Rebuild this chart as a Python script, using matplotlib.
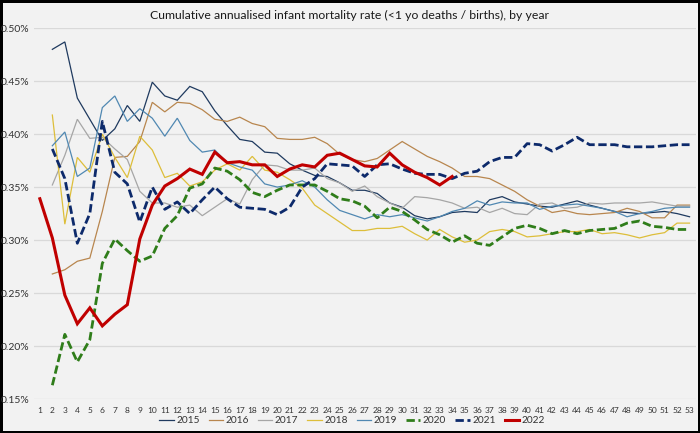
import numpy as np
import matplotlib
matplotlib.use("Agg")
import matplotlib.pyplot as plt
from matplotlib.ticker import FuncFormatter

nan = np.nan

weeks = list(range(1, 54))

# cumulative annualised rate, in percent; week 1 only reported for 2022
y2015 = [nan, 0.480, 0.487, 0.434, 0.414, 0.394, 0.405, 0.427, 0.412, 0.449,
         0.436, 0.432, 0.445, 0.440, 0.422, 0.408, 0.395, 0.393, 0.383, 0.382,
         0.372, 0.366, 0.361, 0.360, 0.354, 0.347, 0.347, 0.344, 0.335, 0.331,
         0.323, 0.320, 0.322, 0.326, 0.327, 0.326, 0.338, 0.341, 0.336, 0.334,
         0.332, 0.331, 0.334, 0.337, 0.333, 0.330, 0.327, 0.326, 0.325, 0.326,
         0.327, 0.325, 0.322]
y2016 = [nan, 0.268, 0.272, 0.280, 0.283, 0.327, 0.378, 0.379, 0.393, 0.430,
         0.421, 0.430, 0.429, 0.423, 0.414, 0.412, 0.416, 0.410, 0.407, 0.396,
         0.395, 0.395, 0.397, 0.391, 0.381, 0.376, 0.374, 0.377, 0.385, 0.393,
         0.386, 0.379, 0.374, 0.368, 0.360, 0.360, 0.358, 0.352, 0.346, 0.338,
         0.332, 0.326, 0.328, 0.325, 0.324, 0.325, 0.326, 0.330, 0.327, 0.321,
         0.321, 0.333, 0.333]
y2017 = [nan, 0.352, 0.380, 0.414, 0.396, 0.397, 0.386, 0.376, 0.346, 0.335,
         0.335, 0.331, 0.333, 0.323, 0.331, 0.339, 0.334, 0.357, 0.371, 0.370,
         0.366, 0.366, 0.368, 0.358, 0.354, 0.346, 0.351, 0.341, 0.335, 0.330,
         0.341, 0.340, 0.338, 0.335, 0.330, 0.331, 0.326, 0.330, 0.325, 0.324,
         0.334, 0.335, 0.330, 0.331, 0.335, 0.334, 0.335, 0.335, 0.335, 0.336,
         0.334, 0.332, 0.332]
y2018 = [nan, 0.418, 0.315, 0.378, 0.364, 0.400, 0.378, 0.359, 0.398, 0.385,
         0.359, 0.363, 0.351, 0.355, 0.366, 0.372, 0.366, 0.379, 0.366, 0.364,
         0.357, 0.349, 0.333, 0.325, 0.317, 0.309, 0.309, 0.311, 0.311, 0.313,
         0.306, 0.300, 0.310, 0.303, 0.298, 0.300, 0.308, 0.310, 0.308, 0.303,
         0.304, 0.306, 0.308, 0.308, 0.310, 0.306, 0.307, 0.305, 0.302, 0.305,
         0.307, 0.316, 0.316]
y2019 = [nan, 0.389, 0.402, 0.360, 0.368, 0.425, 0.436, 0.412, 0.424, 0.415,
         0.398, 0.415, 0.394, 0.383, 0.385, 0.373, 0.369, 0.366, 0.353, 0.350,
         0.352, 0.356, 0.350, 0.338, 0.328, 0.324, 0.320, 0.324, 0.322, 0.324,
         0.321, 0.318, 0.322, 0.327, 0.330, 0.337, 0.333, 0.336, 0.335, 0.335,
         0.329, 0.332, 0.333, 0.334, 0.332, 0.330, 0.327, 0.322, 0.325, 0.327,
         0.330, 0.331, 0.331]
y2020 = [nan, 0.163, 0.211, 0.185, 0.206, 0.278, 0.301, 0.290, 0.280, 0.285,
         0.311, 0.323, 0.349, 0.353, 0.368, 0.365, 0.357, 0.345, 0.341, 0.347,
         0.352, 0.352, 0.352, 0.346, 0.339, 0.337, 0.332, 0.321, 0.331, 0.327,
         0.319, 0.310, 0.305, 0.298, 0.304, 0.297, 0.295, 0.303, 0.311, 0.314,
         0.311, 0.306, 0.309, 0.306, 0.309, 0.310, 0.311, 0.316, 0.318, 0.313,
         0.312, 0.310, 0.310]
y2021 = [nan, 0.386, 0.358, 0.297, 0.325, 0.412, 0.364, 0.353, 0.317, 0.350,
         0.329, 0.336, 0.325, 0.338, 0.350, 0.339, 0.331, 0.330, 0.329, 0.324,
         0.331, 0.350, 0.358, 0.372, 0.371, 0.370, 0.360, 0.371, 0.372, 0.367,
         0.363, 0.362, 0.362, 0.358, 0.363, 0.365, 0.374, 0.378, 0.378, 0.391,
         0.390, 0.384, 0.390, 0.397, 0.390, 0.390, 0.390, 0.388, 0.388, 0.388,
         0.389, 0.390, 0.390]
y2022 = [0.339, 0.302, 0.248, 0.221, 0.236, 0.219, 0.230, 0.239, 0.301, 0.333,
         0.351, 0.358, 0.367, 0.362, 0.383, 0.373, 0.374, 0.371, 0.371, 0.360,
         0.367, 0.371, 0.369, 0.380, 0.382, 0.376, 0.370, 0.369, 0.382, 0.371,
         0.364, 0.359, 0.352, 0.360]

series = [
    ("2015", y2015, "#1F3A5F", 0.9, "-"),
    ("2016", y2016, "#B8864E", 0.9, "-"),
    ("2017", y2017, "#A6A6A6", 0.9, "-"),
    ("2018", y2018, "#DDBE3A", 0.9, "-"),
    ("2019", y2019, "#5088B2", 0.9, "-"),
    ("2020", y2020, "#2F7D1A", 2.0, "--"),
    ("2021", y2021, "#0D2A6B", 2.0, "--"),
    ("2022", y2022, "#C00000", 2.2, "-"),
]

plt.rcParams["font.family"] = ["Liberation Sans Narrow", "Lato", "DejaVu Sans"]

bg = "#F2F2F2"
fig = plt.figure(figsize=(7, 4.33), dpi=100)
fig.patch.set_facecolor(bg)
fig.patch.set_edgecolor("black")
fig.patch.set_linewidth(2.5)

ax = fig.add_axes([0.048, 0.0785, 0.946, 0.8565])
ax.set_facecolor(bg)

for label, vals, color, lw, ls in series:
    line, = ax.plot(weeks[:len(vals)], vals, color=color, linewidth=lw,
                    linestyle=ls, label=label, solid_joinstyle="miter")
    if ls == "--":
        line.set_dashes((3, 1.3))

ax.set_xlim(0.5, 53.5)
ax.set_ylim(0.15, 0.50)
ax.set_yticks(np.arange(0.15, 0.501, 0.05))
ax.yaxis.set_major_formatter(FuncFormatter(lambda v, p: f"{v:.2f}%"))
ax.set_xticks(weeks)
ax.set_xticklabels([str(w) for w in weeks])

ax.grid(axis="y", color="#D9D9D9", linewidth=0.9)
ax.set_axisbelow(True)
for s in ax.spines.values():
    s.set_visible(False)
ax.tick_params(axis="both", length=0, colors="#333333")
ax.tick_params(axis="y", labelsize=7.5, pad=3)
ax.tick_params(axis="x", labelsize=6, pad=6)

fig.text(0.5, 0.965, "Cumulative annualised infant mortality rate (<1 yo deaths / births), by year",
         ha="center", va="center", fontsize=8.8, color="#1a1a1a")

leg = fig.legend(loc="center", bbox_to_anchor=(0.503, 0.028), ncol=8, frameon=False,
                 fontsize=7.3, handlelength=1.4, handletextpad=0.25, columnspacing=0.9)
for t in leg.get_texts():
    t.set_color("#333333")

fig.savefig("out.png", dpi=100, facecolor=fig.get_facecolor(), edgecolor=fig.get_edgecolor())
